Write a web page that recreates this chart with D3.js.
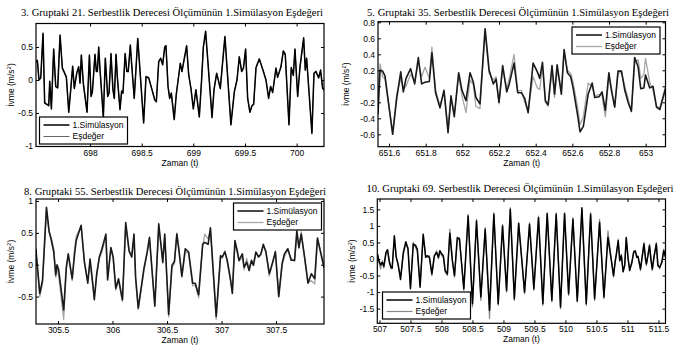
<!DOCTYPE html>
<html>
<head>
<meta charset="utf-8">
<script src="https://cdn.jsdelivr.net/npm/d3@7"></script>
<style>
  body { margin: 0; background: #fff; }
  svg { display: block; }
</style>
</head>
<body>
<svg id="chart" width="674" height="346"></svg>
<script>
// ---- panel 1: 3. Gruptaki 21. serbestlik derecesi
const p1Time = [
  697.477, 697.490, 697.506, 697.523, 697.545, 697.561, 697.581, 697.600, 697.610, 697.626,
  697.648, 697.668, 697.687, 697.710, 697.732, 697.755, 697.771, 697.794, 697.813, 697.832,
  697.848, 697.871, 697.890, 697.903, 697.916, 697.935, 697.971, 697.994, 698.010, 698.023,
  698.048, 698.061, 698.071, 698.084, 698.097, 698.129, 698.148, 698.171, 698.184, 698.203,
  698.222, 698.235, 698.252, 698.264, 698.290, 698.306, 698.319, 698.340, 698.356, 698.370,
  698.390, 698.404, 698.428, 698.462, 698.519, 698.542, 698.568, 698.600, 698.626, 698.642,
  698.665, 698.684, 698.703, 698.723, 698.735, 698.755, 698.771, 698.787, 698.815, 698.835,
  698.874, 698.890, 698.935, 698.955, 698.977, 699.000, 699.025, 699.058, 699.080, 699.097,
  699.119, 699.181, 699.200, 699.226, 699.261, 699.306, 699.330, 699.364, 699.397, 699.423,
  699.445, 699.468, 699.485, 699.506, 699.526, 699.548, 699.568, 699.584, 699.607, 699.639,
  699.678, 699.703, 699.729, 699.748, 699.768, 699.800, 699.816, 699.848, 699.871, 699.890,
  699.926, 699.948, 699.968, 699.984, 700.010, 700.032, 700.068, 700.084, 700.097, 700.148,
  700.168, 700.187, 700.213, 700.232, 700.252, 700.265
];
const p1Sim = [
  0.28, 0.30, 0.00, 0.03, 0.71, -0.35, -0.37, -0.39, -0.02, -0.44,
  0.47, -0.10, -0.12, 0.68, 0.18, 0.10, 0.04, -0.49, -0.15, 0.21,
  -0.13, 0.10, 0.20, -0.05, 0.38, -0.05, -0.49, 0.38, -0.25, -0.18,
  0.39, 0.13, 0.13, 0.50, 0.15, -0.57, 0.33, -0.25, -0.20, 0.40,
  -0.15, -0.28, 0.39, 0.05, -0.45, -0.17, -0.20, 0.40, 0.13, 0.13,
  0.53, 0.22, -0.28, 0.63, -0.65, 0.05, 0.03, -0.15, -0.30, -0.33,
  0.28, 0.33, 0.23, 0.50, 0.52, -0.10, -0.28, -0.20, -0.60, -0.22,
  0.25, 0.13, 0.52, 0.08, -0.13, -0.44, -0.15, -0.56, 0.00, 0.50,
  0.74, -0.57, -0.15, 0.10, -0.13, 0.66, 0.10, -0.68, -0.18, 0.00,
  0.35, 0.13, 0.18, 0.47, -0.28, -0.49, -0.39, -0.37, 0.19, 0.32,
  0.13, 0.00, -0.28, -0.10, -0.19, 0.18, 0.04, 0.20, 0.44, 0.39,
  -0.68, 0.19, 0.07, 0.47, -0.25, 0.19, 0.64, 0.15, 0.33, -0.81,
  0.10, 0.13, 0.03, 0.15, -0.13, -0.15
];
const p1Esd = [
  0.25, 0.29, 0.01, 0.04, 0.69, -0.33, -0.36, -0.38, -0.03, -0.42,
  0.46, -0.09, -0.11, 0.66, 0.19, 0.11, 0.05, -0.47, -0.14, 0.20,
  -0.12, 0.11, 0.19, -0.04, 0.37, -0.04, -0.48, 0.37, -0.24, -0.17,
  0.38, 0.14, 0.12, 0.49, 0.16, -0.55, 0.32, -0.24, -0.19, 0.39,
  -0.14, -0.27, 0.38, 0.06, -0.44, -0.16, -0.19, 0.39, 0.14, 0.12,
  0.52, 0.23, -0.27, 0.62, -0.63, 0.06, 0.04, -0.14, -0.29, -0.32,
  0.27, 0.32, 0.24, 0.49, 0.53, -0.09, -0.27, -0.19, -0.58, -0.21,
  0.26, 0.12, 0.51, 0.09, -0.12, -0.43, -0.14, -0.55, 0.01, 0.49,
  0.72, -0.55, -0.14, 0.11, -0.12, 0.65, 0.11, -0.66, -0.17, 0.01,
  0.36, 0.12, 0.19, 0.46, -0.27, -0.48, -0.38, -0.36, 0.18, 0.31,
  0.14, 0.01, -0.27, -0.09, -0.18, 0.17, 0.05, 0.19, 0.43, 0.37,
  -0.66, 0.18, 0.08, 0.46, -0.24, 0.18, 0.62, 0.16, 0.32, -0.79,
  0.11, 0.12, 0.04, 0.14, -0.12, -0.14
];
const p1XTicks = [698, 698.5, 699, 699.5, 700];
const p1YTicks = [-1, -0.5, 0, 0.5];

// ---- panel 2: 5. Gruptaki 35. serbestlik derecesi
const p2Time = [
  651.540, 651.551, 651.565, 651.578, 651.620, 651.642, 651.664, 651.678, 651.693, 651.718,
  651.740, 651.760, 651.778, 651.796, 651.820, 651.834, 651.854, 651.878, 651.900, 651.922,
  651.938, 651.956, 651.980, 651.998, 652.020, 652.042, 652.060, 652.074, 652.096, 652.124,
  652.146, 652.169, 652.184, 652.200, 652.220, 652.242, 652.256, 652.282, 652.302, 652.322,
  652.340, 652.359, 652.386, 652.409, 652.422, 652.437, 652.453, 652.468, 652.489, 652.503,
  652.517, 652.540, 652.555, 652.573, 652.591, 652.604, 652.628, 652.642, 652.660, 652.686,
  652.708, 652.722, 652.746, 652.762, 652.780, 652.799, 652.813, 652.831, 652.849, 652.868,
  652.886, 652.904, 652.922, 652.940, 652.959, 652.973, 652.990, 652.999, 653.022, 653.040,
  653.059, 653.077, 653.108
];
const p2Sim = [
  -0.35, 0.20, 0.19, 0.13, -0.60, -0.15, 0.18, -0.07, 0.10, 0.22,
  0.03, 0.36, 0.03, 0.05, 0.06, 0.42, -0.08, -0.27, -0.05, -0.58,
  -0.12, -0.38, 0.17, -0.05, -0.18, 0.17, 0.05, -0.14, -0.22, 0.72,
  0.20, 0.03, 0.09, -0.20, 0.26, -0.07, 0.03, 0.29, -0.08, -0.08,
  -0.15, -0.33, 0.29, 0.18, 0.10, 0.30, -0.18, -0.23, 0.26, -0.10,
  0.27, -0.10, 0.46, 0.17, 0.12, -0.02, -0.35, -0.57, -0.50, -0.10,
  0.04, -0.14, -0.13, -0.07, -0.30, 0.17, -0.05, -0.26, 0.19, 0.19,
  -0.05, -0.20, -0.31, 0.36, 0.24, -0.03, -0.02, 0.14, -0.02, 0.00,
  -0.26, -0.29, -0.03
];
const p2Esd = [
  -0.25, 0.28, 0.12, 0.10, -0.58, -0.10, 0.10, -0.03, 0.00, 0.15,
  0.05, 0.30, 0.12, 0.24, 0.10, 0.49, -0.05, -0.24, -0.07, -0.52,
  -0.15, -0.35, 0.14, -0.12, -0.33, 0.08, 0.02, -0.25, -0.28, 0.69,
  0.16, 0.08, 0.12, -0.22, 0.22, -0.03, 0.10, 0.40, -0.06, -0.05,
  -0.20, -0.30, 0.12, -0.02, -0.04, 0.25, -0.20, -0.25, 0.20, -0.14,
  0.20, -0.05, 0.43, 0.20, 0.16, 0.05, -0.25, -0.48, -0.38, 0.04,
  0.00, -0.12, -0.10, -0.12, -0.38, 0.12, -0.02, -0.25, 0.15, 0.18,
  0.00, -0.15, -0.32, 0.30, 0.33, 0.10, 0.15, 0.35, 0.05, -0.05,
  -0.25, -0.27, 0.00
];
const p2XTicks = [651.6, 651.8, 652, 652.2, 652.4, 652.6, 652.8, 653];
const p2YTicks = [-0.6, -0.4, -0.2, 0, 0.2, 0.4, 0.6, 0.8];

// ---- panel 3: 8. Gruptaki 55. serbestlik derecesi
const p3Time = [
  305.298, 305.303, 305.333, 305.358, 305.394, 305.418, 305.439, 305.461, 305.479, 305.491,
  305.506, 305.552, 305.576, 305.594, 305.630, 305.652, 305.667, 305.712, 305.742, 305.773,
  305.794, 305.818, 305.833, 305.855, 305.879, 305.903, 305.939, 305.955, 305.985, 306.006,
  306.030, 306.055, 306.091, 306.121, 306.152, 306.176, 306.197, 306.212, 306.236, 306.288,
  306.318, 306.339, 306.388, 306.424, 306.448, 306.461, 306.479, 306.515, 306.545, 306.568,
  306.590, 306.611, 306.636, 306.667, 306.698, 306.735, 306.759, 306.790, 306.827, 306.846,
  306.877, 306.898, 306.951, 306.991, 307.006, 307.031, 307.052, 307.083, 307.099, 307.123,
  307.145, 307.160, 307.191, 307.207, 307.231, 307.253, 307.275, 307.293, 307.315, 307.340,
  307.361, 307.383, 307.407, 307.438, 307.469, 307.494, 307.525, 307.556, 307.577, 307.608,
  307.639, 307.670, 307.691, 307.710, 307.731, 307.762, 307.793, 307.824, 307.855, 307.880,
  307.940
];
const p3Sim = [
  0.25, 0.12, -0.45, -0.24, 0.90, 0.53, 0.38, 0.20, -0.16, 0.00,
  -0.08, -0.71, -0.04, 0.17, -0.22, 0.17, 0.38, 0.62, 0.04, -0.29,
  0.09, -0.29, -0.55, -0.14, 0.12, 0.25, 0.48, -0.24, 0.27, 0.12,
  -0.37, -0.22, -0.55, 0.66, 0.22, 0.12, 0.48, -0.20, -0.68, -0.06,
  0.20, 0.43, -0.65, 0.64, 0.25, 0.04, 0.48, -0.78, -0.01, 0.05,
  0.48, 0.20, -0.18, 0.25, 0.20, -0.29, -0.29, -0.47, 0.32, 0.35,
  0.32, 0.58, -0.81, 0.14, 0.12, 0.20, 0.07, -0.24, -0.45, 0.38,
  0.20, 0.07, 0.17, -0.04, 0.04, -0.09, 0.07, -0.01, 0.20, 0.12,
  0.17, 0.32, 0.20, -0.14, 0.04, 0.20, -0.50, 0.02, 0.17, 0.25,
  0.07, 0.07, 0.53, 0.27, 0.48, 0.12, -0.29, -0.14, -0.22, 0.42,
  -0.05
];
const p3Esd = [
  0.22, 0.10, -0.50, -0.30, 0.86, 0.50, 0.42, 0.25, -0.20, -0.05,
  -0.18, -0.86, -0.08, 0.15, -0.25, 0.25, 0.45, 0.60, 0.06, -0.25,
  0.05, -0.30, -0.50, -0.18, 0.10, 0.20, 0.45, -0.20, 0.25, 0.10,
  -0.40, -0.25, -0.58, 0.62, 0.20, 0.15, 0.45, -0.25, -0.70, -0.10,
  0.18, 0.40, -0.62, 0.60, 0.28, 0.02, 0.45, -0.82, -0.05, 0.02,
  0.50, 0.22, -0.20, 0.20, 0.18, -0.33, -0.32, -0.52, 0.30, 0.48,
  0.40, 0.55, -0.86, 0.15, 0.10, 0.22, 0.05, -0.25, -0.42, 0.35,
  0.24, 0.05, 0.12, -0.08, 0.10, -0.05, 0.05, 0.02, 0.18, 0.13,
  0.15, 0.30, 0.22, -0.18, 0.02, 0.22, -0.48, 0.00, 0.12, 0.24,
  0.10, 0.05, 0.50, 0.25, 0.52, 0.10, -0.28, -0.25, -0.30, 0.40,
  0.00
];
const p3XTicks = [305.5, 306, 306.5, 307, 307.5];
const p3YTicks = [-0.5, 0, 0.5, 1];

// ---- panel 4: 10. Gruptaki 69. serbestlik derecesi
const p4Time = [
  506.970, 506.990, 507.020, 507.045, 507.070, 507.105, 507.130, 507.160, 507.185, 507.205,
  507.240, 507.270, 507.300, 507.340, 507.385, 507.425, 507.460, 507.500, 507.545, 507.580,
  507.610, 507.655, 507.705, 507.745, 507.770, 507.805, 507.845, 507.885, 507.920, 507.950,
  507.975, 508.005, 508.030, 508.060, 508.095, 508.135, 508.175, 508.210, 508.255, 508.290,
  508.360, 508.430, 508.500, 508.565, 508.635, 508.705, 508.775, 508.845, 508.915, 508.985,
  509.050, 509.110, 509.175, 509.245, 509.340, 509.420, 509.490, 509.565, 509.635, 509.705,
  509.780, 509.850, 509.920, 509.985, 510.050, 510.120, 510.190, 510.265, 510.335, 510.405,
  510.470, 510.550, 510.620, 510.685, 510.775, 510.800, 510.820, 510.850, 510.875, 510.900,
  510.930, 510.955, 510.980, 511.010, 511.035, 511.070, 511.100, 511.126, 511.150, 511.170,
  511.210, 511.240, 511.266, 511.290, 511.305, 511.330, 511.355, 511.380, 511.400, 511.430,
  511.465, 511.490, 511.520, 511.555, 511.585, 511.613
];
const p4Sim = [
  0.15, -0.05, -0.18, -0.10, -0.22, 0.20, 0.28, -0.10, -0.25, -0.28,
  0.70, 0.05, -0.15, -0.62, 0.20, 0.52, 0.30, -0.90, 0.45, 0.42,
  0.30, -0.85, 0.75, 0.05, 0.10, 0.05, -0.45, 0.10, 0.20, 0.05,
  0.25, 0.15, 0.10, -0.35, -0.45, 0.78, -0.05, -0.50, 0.65, 0.60,
  -0.90, 1.30, -1.35, 1.15, -1.15, 0.90, -1.55, 1.35, -1.35, 1.00,
  -0.95, 1.50, -1.20, 1.07, -1.00, 1.05, -0.90, 1.25, -1.35, 1.37,
  -1.25, 1.35, -1.45, 1.37, -1.05, 1.20, -1.27, 1.55, -1.35, 1.35,
  -1.20, 1.10, -1.15, 0.65, -0.50, -0.10, 0.15, 0.55, -0.05, 0.10,
  -0.38, -0.20, 0.65, 0.00, -0.35, -0.10, 0.20, 0.25, 0.05, 0.08,
  -0.30, 0.10, 0.45, 0.00, -0.15, 0.10, 0.40, -0.05, -0.30, 0.10,
  0.45, -0.20, -0.25, -0.10, 0.25, 0.05
];
const p4Esd = [
  0.10, -0.10, -0.30, -0.05, -0.28, 0.15, 0.25, -0.05, -0.30, -0.25,
  0.65, 0.10, -0.20, -0.55, 0.15, 0.45, 0.35, -0.85, 0.50, 0.35,
  0.25, -0.80, 0.70, 0.10, 0.05, 0.10, -0.50, 0.05, 0.25, 0.00,
  0.20, 0.10, 0.05, -0.40, -0.50, 0.90, 0.00, -0.55, 0.55, 0.65,
  -0.95, 1.35, -1.45, 1.20, -1.25, 0.95, -1.80, 1.40, -1.40, 1.05,
  -1.00, 1.55, -1.25, 1.10, -1.05, 1.10, -0.95, 1.30, -1.40, 1.40,
  -1.30, 1.40, -1.50, 1.40, -1.10, 1.25, -1.30, 1.50, -1.40, 1.40,
  -1.25, 1.20, -1.20, 0.85, -0.55, -0.05, 0.10, 0.60, 0.00, 0.15,
  -0.40, -0.15, 0.60, 0.05, -0.30, -0.15, 0.25, 0.20, 0.10, 0.05,
  -0.35, 0.15, 0.50, 0.05, -0.20, 0.15, 0.45, 0.00, -0.35, 0.05,
  0.50, -0.15, -0.30, -0.05, 0.30, 0.10
];
const p4XTicks = [507, 507.5, 508, 508.5, 509, 509.5, 510, 510.5, 511, 511.5];
const p4YTicks = [-1.5, -1, -0.5, 0, 0.5, 1, 1.5];

const legendLabels = ['1.Simülasyon', 'Eşdeğer'];

const panels = [
  {
    title: '3. Gruptaki 21. Serbestlik Derecesi Ölçümünün 1.Simülasyon Eşdeğeri',
    time: p1Time, sim: p1Sim, esd: p1Esd, xTicks: p1XTicks, yTicks: p1YTicks,
    xDomain: [697.477, 700.265], yDomain: [-1.008, 0.856],
    box: { x0: 36, x1: 324, y0: 23.5, y1: 146.5 },
    titleX: 172, titleY: 16, yLabelX: 11, xLabelY: 166,
    legend: { x: 39.5, y: 117 },
    simStyle: { color: '#000', width: 1.5 }, esdStyle: { color: '#666', width: 1 }
  },
  {
    title: '5. Gruptaki 35. Serbestlik Derecesi Ölçümünün 1.Simülasyon Eşdeğeri',
    time: p2Time, sim: p2Sim, esd: p2Esd, xTicks: p2XTicks, yTicks: p2YTicks,
    xDomain: [651.540, 653.108], yDomain: [-0.755, 0.8075],
    box: { x0: 378, x1: 665.5, y0: 21.7, y1: 146.7 },
    titleX: 518, titleY: 15.5, yLabelX: 346, xLabelY: 166,
    legend: { x: 572, y: 27 },
    simStyle: { color: '#1a1a1a', width: 1.6 }, esdStyle: { color: '#a6a6a6', width: 1.3 }
  },
  {
    title: '8. Gruptaki 55. Serbestlik Derecesi Ölçümünün 1.Simülasyon Eşdeğeri',
    time: p3Time, sim: p3Sim, esd: p3Esd, xTicks: p3XTicks, yTicks: p3YTicks,
    xDomain: [305.298, 307.94], yDomain: [-0.93, 1.031],
    box: { x0: 36, x1: 324, y0: 199, y1: 324 },
    titleX: 175, titleY: 194.5, yLabelX: 11, xLabelY: 343,
    legend: { x: 233.5, y: 203 },
    simStyle: { color: '#1a1a1a', width: 1.6 }, esdStyle: { color: '#a6a6a6', width: 1.3 }
  },
  {
    title: '10. Gruptaki 69. Serbestlik Derecesi Ölçümünün 1.Simülasyon Eşdeğeri',
    time: p4Time, sim: p4Sim, esd: p4Esd, xTicks: p4XTicks, yTicks: p4YTicks,
    xDomain: [506.965, 511.613], yDomain: [-1.943, 1.813],
    box: { x0: 377.3, x1: 665.5, y0: 199, y1: 323.3 },
    titleX: 520, titleY: 191.5, yLabelX: 352, xLabelY: 342,
    legend: { x: 382.5, y: 292 },
    simStyle: { color: '#000', width: 1.5 }, esdStyle: { color: '#888', width: 1.2 }
  }
];

const sans = '"Liberation Sans", Arial, sans-serif';
const serif = '"Liberation Serif", "Times New Roman", serif';
const fmt = v => String(+v.toFixed(2));
const svg = d3.select('#chart');

function styleAxis(sel) {
  sel.select('.domain').remove();
  sel.selectAll('.tick line').attr('stroke', '#000');
  sel.selectAll('.tick text').attr('fill', '#000');
  sel.attr('font-family', sans).attr('font-size', 8.5);
}

panels.forEach((p, i) => {
  const b = p.box;
  const x = d3.scaleLinear().domain(p.xDomain).range([b.x0, b.x1]);
  const y = d3.scaleLinear().domain(p.yDomain).range([b.y1, b.y0]);
  const g = svg.append('g').attr('class', 'panel-' + (i + 1));

  svg.append('clipPath').attr('id', 'clip' + i)
    .append('rect')
    .attr('x', b.x0).attr('y', b.y0)
    .attr('width', b.x1 - b.x0).attr('height', b.y1 - b.y0);

  // series, gray first so the black simulation sits on top
  const rows = p.time.map((t, k) => ({ t, s: p.sim[k], e: p.esd[k] }));
  const plot = g.append('g').attr('clip-path', `url(#clip${i})`);
  [['e', p.esdStyle], ['s', p.simStyle]].forEach(([key, st]) => {
    plot.append('path')
      .datum(rows)
      .attr('fill', 'none')
      .attr('stroke', st.color)
      .attr('stroke-width', st.width)
      .attr('stroke-linejoin', 'round')
      .attr('d', d3.line().x(d => x(d.t)).y(d => y(d[key])));
  });

  // axes with inward ticks on all four sides
  g.append('g')
    .attr('transform', `translate(0,${b.y1})`)
    .call(d3.axisBottom(x).tickValues(p.xTicks).tickSizeInner(-3).tickSizeOuter(0).tickPadding(3).tickFormat(fmt))
    .call(styleAxis);
  g.append('g')
    .attr('transform', `translate(0,${b.y0})`)
    .call(d3.axisTop(x).tickValues(p.xTicks).tickSizeInner(-3).tickSizeOuter(0).tickFormat(''))
    .call(styleAxis);
  g.append('g')
    .attr('transform', `translate(${b.x0},0)`)
    .call(d3.axisLeft(y).tickValues(p.yTicks).tickSizeInner(-3).tickSizeOuter(0).tickPadding(3).tickFormat(fmt))
    .call(styleAxis);
  g.append('g')
    .attr('transform', `translate(${b.x1},0)`)
    .call(d3.axisRight(y).tickValues(p.yTicks).tickSizeInner(-3).tickSizeOuter(0).tickFormat(''))
    .call(styleAxis);

  g.append('rect')
    .attr('x', b.x0).attr('y', b.y0)
    .attr('width', b.x1 - b.x0).attr('height', b.y1 - b.y0)
    .attr('fill', 'none').attr('stroke', '#000').attr('stroke-width', 1.2);

  // title and axis labels
  g.append('text')
    .attr('x', p.titleX).attr('y', p.titleY)
    .attr('text-anchor', 'middle')
    .attr('font-family', serif).attr('font-size', 10.6)
    .text(p.title);

  g.append('text')
    .attr('x', (b.x0 + b.x1) / 2).attr('y', p.xLabelY)
    .attr('text-anchor', 'middle')
    .attr('font-family', sans).attr('font-size', 8.5)
    .text('Zaman (t)');

  const yl = g.append('text')
    .attr('transform', `translate(${p.yLabelX},${(b.y0 + b.y1) / 2}) rotate(-90)`)
    .attr('text-anchor', 'middle')
    .attr('dy', '0.35em')
    .attr('font-family', sans).attr('font-size', 8.5);
  yl.append('tspan').text('İvme (m/s');
  yl.append('tspan').attr('font-size', 6).attr('dy', '-0.5em').text('2');
  yl.append('tspan').attr('dy', '0.35em').text(')');

  // legend
  const lg = g.append('g').attr('transform', `translate(${p.legend.x},${p.legend.y})`);
  lg.append('rect')
    .attr('width', 88).attr('height', 27)
    .attr('fill', '#fff').attr('stroke', '#000').attr('stroke-width', 1.2);
  [p.simStyle, p.esdStyle].forEach((st, k) => {
    const ry = 8 + k * 11.5;
    lg.append('line')
      .attr('x1', 4).attr('x2', 30).attr('y1', ry).attr('y2', ry)
      .attr('stroke', st.color).attr('stroke-width', st.width);
    lg.append('text')
      .attr('x', 33).attr('y', ry).attr('dy', '0.35em')
      .attr('font-family', sans).attr('font-size', 8.5)
      .text(legendLabels[k]);
  });
});
</script>
</body>
</html>
